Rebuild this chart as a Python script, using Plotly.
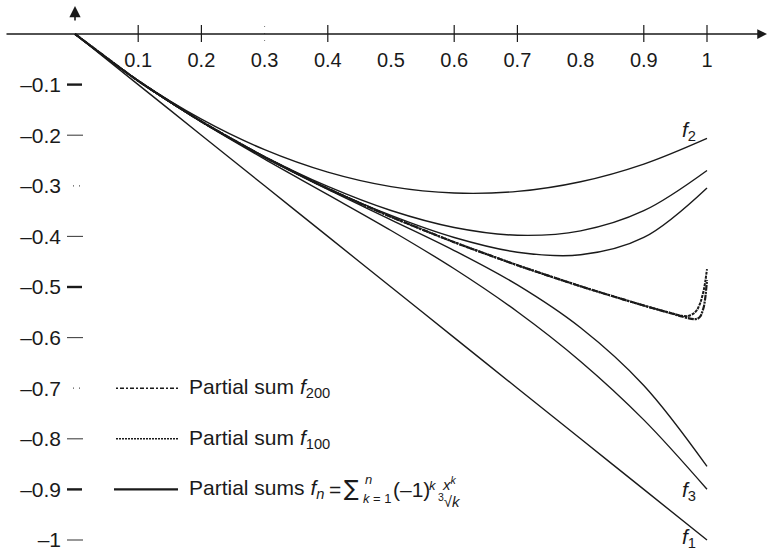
import plotly.graph_objects as go

# ---------------- data ----------------
x_low = [0, 0.1, 0.2, 0.3, 0.4, 0.5, 0.6, 0.7, 0.8, 0.9, 1.0]
f1 = [0, -0.1, -0.2, -0.3, -0.4, -0.5, -0.6, -0.7, -0.8, -0.9, -1.0]
f2 = [0, -0.0921, -0.1683, -0.2286, -0.2730, -0.3016, -0.3143, -0.3111, -0.2920, -0.2571, -0.2063]
f3 = [0, -0.0928, -0.1738, -0.2473, -0.3174, -0.3883, -0.4640, -0.5489, -0.6471, -0.7626, -0.8997]
f4 = [0, -0.0927, -0.1728, -0.2422, -0.3013, -0.3489, -0.3824, -0.3977, -0.3890, -0.3492, -0.2697]
f5 = [0, -0.0927, -0.1730, -0.2436, -0.3072, -0.3672, -0.4279, -0.4959, -0.5806, -0.6946, -0.8545]
f6 = [0, -0.0927, -0.1729, -0.2432, -0.3050, -0.3586, -0.4022, -0.4312, -0.4364, -0.4021, -0.3042]

x_tail = [0, 0.1, 0.2, 0.3, 0.4, 0.5, 0.6, 0.7, 0.8, 0.9, 0.95, 0.96, 0.97, 0.98, 0.985, 0.99, 0.995, 0.9975, 1.0]
f100 = [0, -0.0927, -0.1729, -0.2433, -0.3056, -0.3613, -0.4115, -0.4570, -0.4986, -0.5367,
        -0.5540, -0.5568, -0.5575, -0.5515, -0.5438, -0.5294, -0.5052, -0.4875, -0.4645]
f200 = [0, -0.0927, -0.1729, -0.2433, -0.3056, -0.3613, -0.4115, -0.4570, -0.4986, -0.5367,
        -0.5545, -0.5583, -0.5615, -0.5636, -0.5627, -0.5571, -0.5389, -0.5190, -0.4864]

xtick_vals = [0.1, 0.2, 0.3, 0.4, 0.5, 0.6, 0.7, 0.8, 0.9, 1.0]
xtick_text = ["0.1", "0.2", "0.3", "0.4", "0.5", "0.6", "0.7", "0.8", "0.9", "1"]
xtick_marks = [0.1, 0.2, 0.4, 0.6, 0.7, 0.9, 1.0]
ytick_vals = [-0.1, -0.2, -0.3, -0.4, -0.5, -0.6, -0.7, -0.8, -0.9, -1.0]
ytick_text = ["–0.1", "–0.2", "–0.3", "–0.4", "–0.5", "–0.6", "–0.7", "–0.8", "–0.9", "–1"]
ytick_thick = [-0.1, -0.5, -0.9]
ytick_thin = [-0.2, -0.4, -0.6, -0.8, -1.0]
ytick_dotted = [-0.3, -0.7]

legend_rows = {"f200": -0.7, "f100": -0.8, "fn": -0.9}

# ---------------- geometry (pixel <-> data) ----------------
W, H = 768, 555
X0_PX, X1_PX = 75, 707      # x=0 and x=1
Y0_PX, Y1_PX = 34, 540      # y=0 and y=-1
SX = X1_PX - X0_PX
SY = Y1_PX - Y0_PX


def px_x(p):
    return (p - X0_PX) / SX


def px_y(p):
    return -(p - Y0_PX) / SY


INK = "#1a1a1a"
FONT = "Liberation Sans, Arial, Helvetica, sans-serif"
DASH100 = "3px,1px"
DASH200 = "6px,1px,2px,1px"

fig = go.Figure()

for ys in (f1, f2, f3, f4, f5, f6):
    fig.add_trace(go.Scatter(x=x_low, y=ys, mode="lines",
                             line=dict(color=INK, width=1.4, shape="spline", smoothing=1.0),
                             hoverinfo="skip", showlegend=False))

fig.add_trace(go.Scatter(x=x_tail, y=f200, mode="lines",
                         line=dict(color=INK, width=2.2, dash=DASH200, shape="spline", smoothing=0.6),
                         showlegend=False))
fig.add_trace(go.Scatter(x=x_tail, y=f100, mode="lines",
                         line=dict(color=INK, width=2.0, dash=DASH100, shape="spline", smoothing=0.6),
                         showlegend=False))


def seg_x(vals, up, down):
    xs, ys = [], []
    for v in vals:
        xs += [v, v, None]
        ys += [up, down, None]
    return xs, ys


def seg_y(vals, left, right):
    xs, ys = [], []
    for v in vals:
        xs += [left, right, None]
        ys += [v, v, None]
    return xs, ys


# x tick marks crossing the axis
xs, ys = seg_x(xtick_marks, px_y(25), px_y(42))
fig.add_trace(go.Scatter(x=xs, y=ys, mode="lines", line=dict(color=INK, width=1.2),
                         showlegend=False, hoverinfo="skip"))
xs, ys = seg_x([0.3], px_y(26), px_y(42))
fig.add_trace(go.Scatter(x=xs, y=ys, mode="lines", line=dict(color="#777", width=1, dash="1px,6px"),
                         showlegend=False, hoverinfo="skip"))

# y tick marks
xs, ys = seg_y(ytick_thick, px_x(67), px_x(82))
fig.add_trace(go.Scatter(x=xs, y=ys, mode="lines", line=dict(color=INK, width=2.4),
                         showlegend=False, hoverinfo="skip"))
xs, ys = seg_y(ytick_thin, px_x(67), px_x(83))
fig.add_trace(go.Scatter(x=xs, y=ys, mode="lines", line=dict(color="#444", width=1.1),
                         showlegend=False, hoverinfo="skip"))
xs, ys = seg_y(ytick_dotted, px_x(73), px_x(82))
fig.add_trace(go.Scatter(x=xs, y=ys, mode="lines", line=dict(color="#555", width=1.3, dash="1px,5px"),
                         showlegend=False, hoverinfo="skip"))

# legend samples
lx = [px_x(116), px_x(178)]
fig.add_trace(go.Scatter(x=lx, y=[legend_rows["f200"]] * 2, mode="lines",
                         line=dict(color=INK, width=1.6, dash="2px,2px,4px,2px"), showlegend=False, hoverinfo="skip"))
fig.add_trace(go.Scatter(x=lx, y=[legend_rows["f100"]] * 2, mode="lines",
                         line=dict(color=INK, width=1.6, dash="2px,1px"), showlegend=False, hoverinfo="skip"))
fig.add_trace(go.Scatter(x=[px_x(114), px_x(178)], y=[legend_rows["fn"]] * 2, mode="lines",
                         line=dict(color=INK, width=2.4), showlegend=False, hoverinfo="skip"))

ann = []
# axis arrows
ann.append(dict(x=px_x(767), y=0, ax=px_x(5), ay=0, xref="x", yref="y", axref="x", ayref="y",
                text="", showarrow=True, arrowhead=2, arrowsize=1.5, arrowwidth=1.3, arrowcolor=INK))
ann.append(dict(x=0, y=px_y(6), ax=0, ay=px_y(22), xref="x", yref="y", axref="x", ayref="y",
                text="", showarrow=True, arrowhead=2, arrowsize=1.4, arrowwidth=1.6, arrowcolor=INK))

# curve labels
lab_font = dict(family=FONT, size=21, color=INK)
ann.append(dict(x=px_x(689), y=px_y(131), text="<i>f</i><sub>2</sub>", showarrow=False, font=lab_font))
ann.append(dict(x=px_x(689), y=px_y(491), text="<i>f</i><sub>3</sub>", showarrow=False, font=lab_font))
ann.append(dict(x=px_x(689), y=px_y(538), text="<i>f</i><sub>1</sub>", showarrow=False, font=lab_font))

# legend texts
tx = px_x(187)
ann.append(dict(x=tx, y=legend_rows["f200"], xanchor="left", text="Partial sum <i>f</i><sub>200</sub>",
                showarrow=False, font=lab_font))
ann.append(dict(x=tx, y=legend_rows["f100"], xanchor="left", text="Partial sum <i>f</i><sub>100</sub>",
                showarrow=False, font=lab_font))
ann.append(dict(x=tx, y=legend_rows["fn"], xanchor="left", text="Partial sums <i>f</i><sub><i>n</i></sub>",
                showarrow=False, font=lab_font))
ann.append(dict(x=px_x(335), y=legend_rows["fn"], xanchor="center", text="=",
                showarrow=False, font=lab_font))
ann.append(dict(x=px_x(351), y=px_y(488), xanchor="center", text="∑",
                showarrow=False, font=dict(family="DejaVu Sans", size=22, color=INK)))
small = dict(family=FONT, size=13, color=INK)
ann.append(dict(x=px_x(363), y=px_y(479), xanchor="left", text="<i>n</i>", showarrow=False, font=small))
ann.append(dict(x=px_x(361), y=px_y(498), xanchor="left", text="<i>k</i> = 1", showarrow=False, font=small))
ann.append(dict(x=px_x(391), y=legend_rows["fn"], xanchor="left", text="(–1)", showarrow=False, font=lab_font))
ann.append(dict(x=px_x(427), y=px_y(485), xanchor="left", text="<i>k</i>", showarrow=False, font=small))
ann.append(dict(x=px_x(440), y=px_y(483), xanchor="left", text="<i>x</i><sup><i>k</i></sup>",
                showarrow=False, font=dict(family=FONT, size=15, color=INK)))
ann.append(dict(x=px_x(436), y=px_y(500), xanchor="left", text="<sup>3</sup>√<i>k</i>",
                showarrow=False, font=dict(family=FONT, size=15, color=INK)))

fig.update_layout(
    width=W, height=H,
    margin=dict(l=0, r=0, t=0, b=0),
    paper_bgcolor="white", plot_bgcolor="white",
    showlegend=False,
    annotations=ann,
    xaxis=dict(range=[px_x(0), px_x(W)], showgrid=False, zeroline=False, showline=False,
               tickvals=xtick_vals, ticktext=xtick_text, ticks="",
               anchor="free", position=1 - Y0_PX / H, side="bottom",
               ticklabelstandoff=12,
               tickfont=dict(family=FONT, size=20, color=INK)),
    yaxis=dict(range=[px_y(H), px_y(0)], showgrid=False, zeroline=False, showline=False,
               tickvals=ytick_vals, ticktext=ytick_text, ticks="",
               anchor="free", position=X0_PX / W, side="left",
               ticklabelstandoff=14,
               tickfont=dict(family=FONT, size=21, color=INK)),
)

fig.write_html("out.html")
